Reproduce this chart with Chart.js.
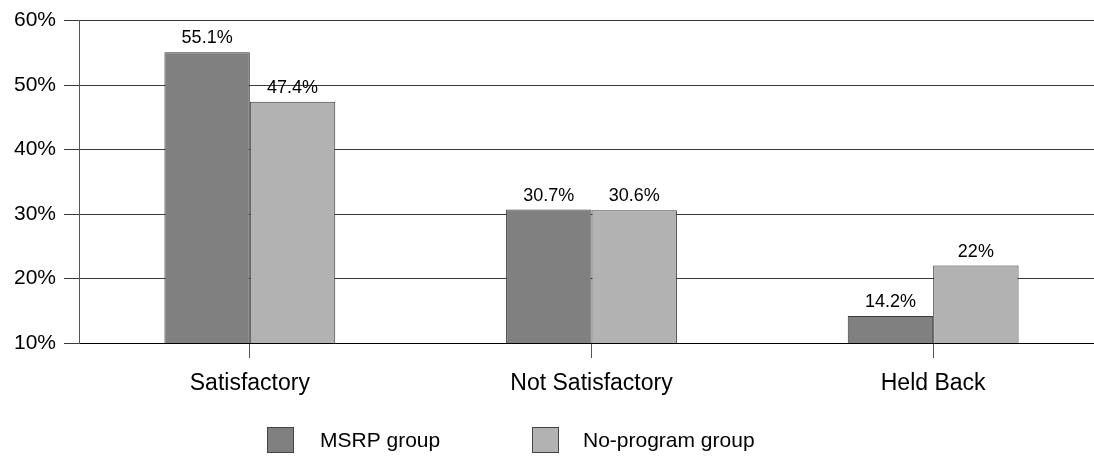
<!DOCTYPE html>
<html>
<head>
<meta charset="utf-8">
<script src="https://cdn.jsdelivr.net/npm/chart.js@4/dist/chart.umd.min.js"></script>
<style>
  html, body { margin: 0; padding: 0; background: #fff; overflow: hidden; }
  #wrap { position: relative; width: 1104px; height: 460px; }
</style>
</head>
<body>
<div id="wrap"><canvas id="c"></canvas></div>
<script>
const categories = ['Satisfactory', 'Not Satisfactory', 'Held Back'];
const msrpGroup = [55.1, 30.7, 14.2];
const noProgramGroup = [47.4, 30.6, 22];
const seriesNames = ['MSRP group', 'No-program group'];
const yTicks = [10, 20, 30, 40, 50, 60];

const FONT = '"Liberation Sans", Arial, sans-serif';

// Percent labels above each bar
const valueLabels = {
  id: 'valueLabels',
  afterDatasetsDraw(chart) {
    const ctx = chart.ctx;
    ctx.save();
    ctx.font = '18px ' + FONT;
    ctx.fillStyle = '#000';
    ctx.textAlign = 'center';
    ctx.textBaseline = 'alphabetic';
    chart.data.datasets.forEach((ds, i) => {
      chart.getDatasetMeta(i).data.forEach((bar, j) => {
        ctx.fillText(ds.data[j] + '%', bar.x, bar.y - 9);
      });
    });
    ctx.restore();
  }
};

// Legend row under the axis
const bottomLegend = {
  id: 'bottomLegend',
  afterDraw(chart) {
    const ctx = chart.ctx;
    const items = [
      { box: 267, text: 320 },
      { box: 532, text: 583 }
    ];
    ctx.save();
    ctx.font = '21px ' + FONT;
    ctx.textBaseline = 'middle';
    chart.data.datasets.forEach((ds, i) => {
      const it = items[i];
      ctx.fillStyle = ds.backgroundColor;
      ctx.fillRect(it.box, 427, 26, 25);
      ctx.strokeStyle = '#444';
      ctx.lineWidth = 1;
      ctx.strokeRect(it.box + 0.5, 427.5, 26, 25);
      ctx.fillStyle = '#000';
      ctx.textAlign = 'left';
      ctx.fillText(ds.label, it.text, 441);
    });
    ctx.restore();
  }
};

new Chart(document.getElementById('c'), {
  type: 'bar',
  data: {
    labels: categories,
    datasets: [
      {
        label: seriesNames[0],
        data: msrpGroup,
        backgroundColor: '#808080',
        borderColor: '#3a3a3a',
        borderWidth: 1
      },
      {
        label: seriesNames[1],
        data: noProgramGroup,
        backgroundColor: '#b2b2b2',
        borderColor: '#3a3a3a',
        borderWidth: 1
      }
    ]
  },
  options: {
    responsive: true,
    maintainAspectRatio: false,
    animation: false,
    events: [],
    layout: { padding: { top: 9, left: 0, right: 0, bottom: 0 } },
    datasets: { bar: { categoryPercentage: 0.5, barPercentage: 1.0 } },
    plugins: {
      legend: { display: false },
      tooltip: { enabled: false }
    },
    scales: {
      x: {
        grid: {
          offset: false,
          drawOnChartArea: false,
          drawTicks: true,
          tickLength: 15,
          color: '#555',
          lineWidth: 1
        },
        border: { display: true, color: '#000', width: 1 },
        ticks: {
          font: { family: FONT, size: 23 },
          color: '#000',
          padding: 12
        },
        afterFit(scale) { scale.height = 117; }
      },
      y: {
        min: yTicks[0],
        max: yTicks[yTicks.length - 1],
        afterBuildTicks(scale) { scale.ticks = yTicks.map(v => ({ value: v })); },
        grid: {
          color: '#3a3a3a',
          lineWidth: 1,
          tickLength: 15
        },
        border: { display: true, color: '#555', width: 1 },
        ticks: {
          font: { family: FONT, size: 21 },
          color: '#000',
          padding: 8,
          callback: v => v + '%'
        },
        afterFit(scale) { scale.width = 79; }
      }
    }
  },
  plugins: [valueLabels, bottomLegend]
});
</script>
</body>
</html>
